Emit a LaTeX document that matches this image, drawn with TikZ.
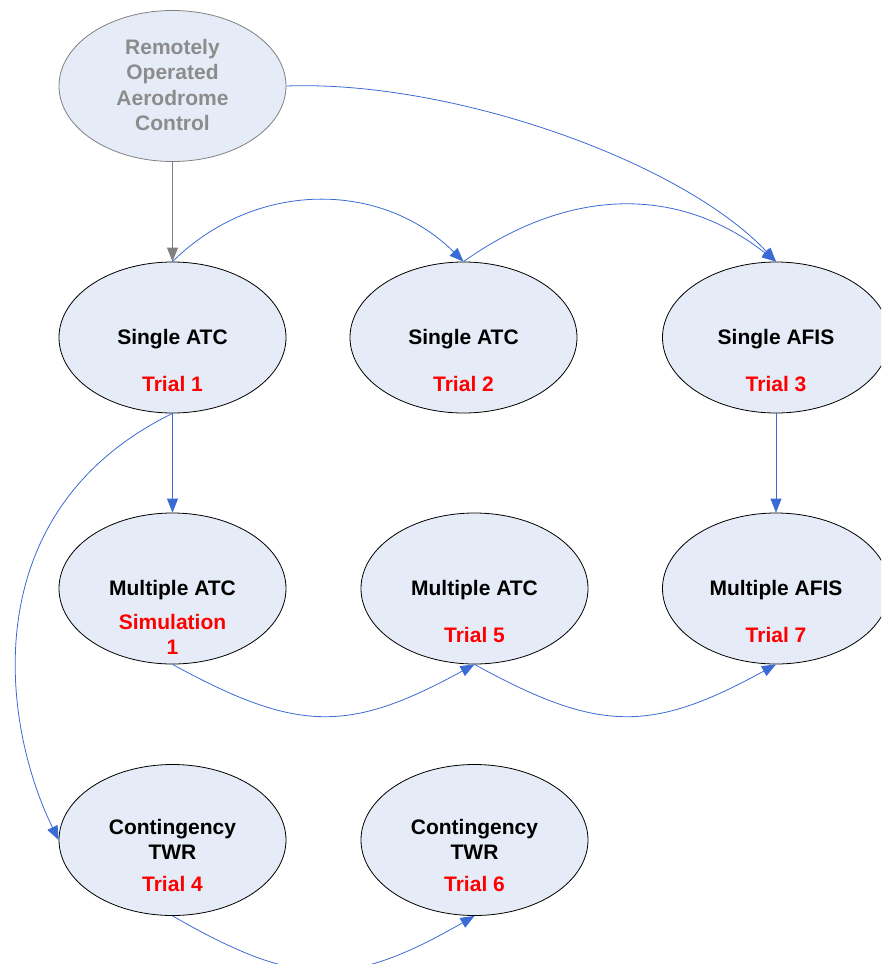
\documentclass[tikz,border=0pt]{standalone}
\usepackage{fontspec}
\setmainfont{Liberation Sans}
\usetikzlibrary{shapes.geometric,arrows.meta}
\definecolor{ellfill}{RGB}{230,236,247}
\definecolor{linkblue}{RGB}{58,106,212}
\definecolor{topgray}{RGB}{128,128,128}
\definecolor{topgraytext}{RGB}{140,140,140}
\definecolor{trialred}{RGB}{255,0,0}
\tikzset{
  ell/.style={ellipse, draw=black, fill=ellfill, line width=0.8pt, minimum width=227pt, minimum height=151pt, inner sep=0pt},
  topell/.style={ell, draw=topgray},
  lbl/.style={anchor=base, inner sep=0pt, font=\fontsize{21}{25}\selectfont\bfseries},
  toplbl/.style={lbl, text=topgraytext},
  redlbl/.style={lbl, text=trialred},
  link/.style={draw=linkblue, line width=0.8pt, -{Triangle[length=14pt,width=11pt]}},
  graylink/.style={draw=topgray, line width=0.8pt, -{Triangle[length=14pt,width=11pt]}}
}
\begin{document}
\begin{tikzpicture}[x=1pt,y=-1pt]
\useasboundingbox (0,0) rectangle (881,964);
\clip (0,0) rectangle (881,964);
% ellipses
\node[topell] (top) at (172.5,86) {};
\node[ell] (a1) at (172.5,337.5) {};
\node[ell] (a2) at (463.5,337.5) {};
\node[ell] (a3) at (776,337.5) {};
\node[ell] (m1) at (172.5,588.5) {};
\node[ell] (m5) at (474.5,588.5) {};
\node[ell] (m7) at (776,588.5) {};
\node[ell] (c4) at (172.5,840) {};
\node[ell] (c6) at (474.5,840) {};
% texts
\node[toplbl] (t1) at (172.5,54) {Remotely};
\node[toplbl] (t2) at (172.5,79.5) {Operated};
\node[toplbl] (t3) at (172.5,105) {Aerodrome};
\node[toplbl] (t4) at (172.5,130.5) {Control};
\node[lbl] (a1t) at (172.5,344) {Single ATC};
\node[redlbl] (a1r) at (172.5,391) {Trial 1};
\node[lbl] (a2t) at (463.5,344) {Single ATC};
\node[redlbl] (a2r) at (463.5,391) {Trial 2};
\node[lbl] (a3t) at (776,344) {Single AFIS};
\node[redlbl] (a3r) at (776,391) {Trial 3};
\node[lbl] (m1t) at (172.5,595) {Multiple ATC};
\node[redlbl] (m1r) at (172.5,629) {Simulation};
\node[redlbl] (m1r2) at (172.5,654) {1};
\node[lbl] (m5t) at (474.5,595) {Multiple ATC};
\node[redlbl] (m5r) at (474.5,642) {Trial 5};
\node[lbl] (m7t) at (776,595) {Multiple AFIS};
\node[redlbl] (m7r) at (776,642) {Trial 7};
\node[lbl] (c4t) at (172.5,834) {Contingency};
\node[lbl] (c4t2) at (172.5,859) {TWR};
\node[redlbl] (c4r) at (172.5,891) {Trial 4};
\node[lbl] (c6t) at (474.5,834) {Contingency};
\node[lbl] (c6t2) at (474.5,859) {TWR};
\node[redlbl] (c6r) at (474.5,891) {Trial 6};
% connectors
\draw[graylink] (top.south) -- (a1.north);
\draw[link] (top.east) .. controls (450,80) and (680,160) .. (a3.north);
\draw[link] (a1.north) .. controls (255,180) and (381,180) .. (a2.north);
\draw[link] (a2.north) .. controls (570,186) and (680,186) .. (a3.north);
\draw[link] (a1.south) -- (m1.north);
\draw[link] (a3.south) -- (m7.north);
\draw[link] (a1.south) .. controls (-25,510) and (0,720) .. (c4.west);
\draw[link] (m1.south) .. controls (298,733) and (349,733) .. (m5.south);
\draw[link] (m5.south) .. controls (599,733) and (651,733) .. (m7.south);
\draw[link] (c4.south) .. controls (298,988) and (349,988) .. (c6.south);
\end{tikzpicture}
\end{document}
